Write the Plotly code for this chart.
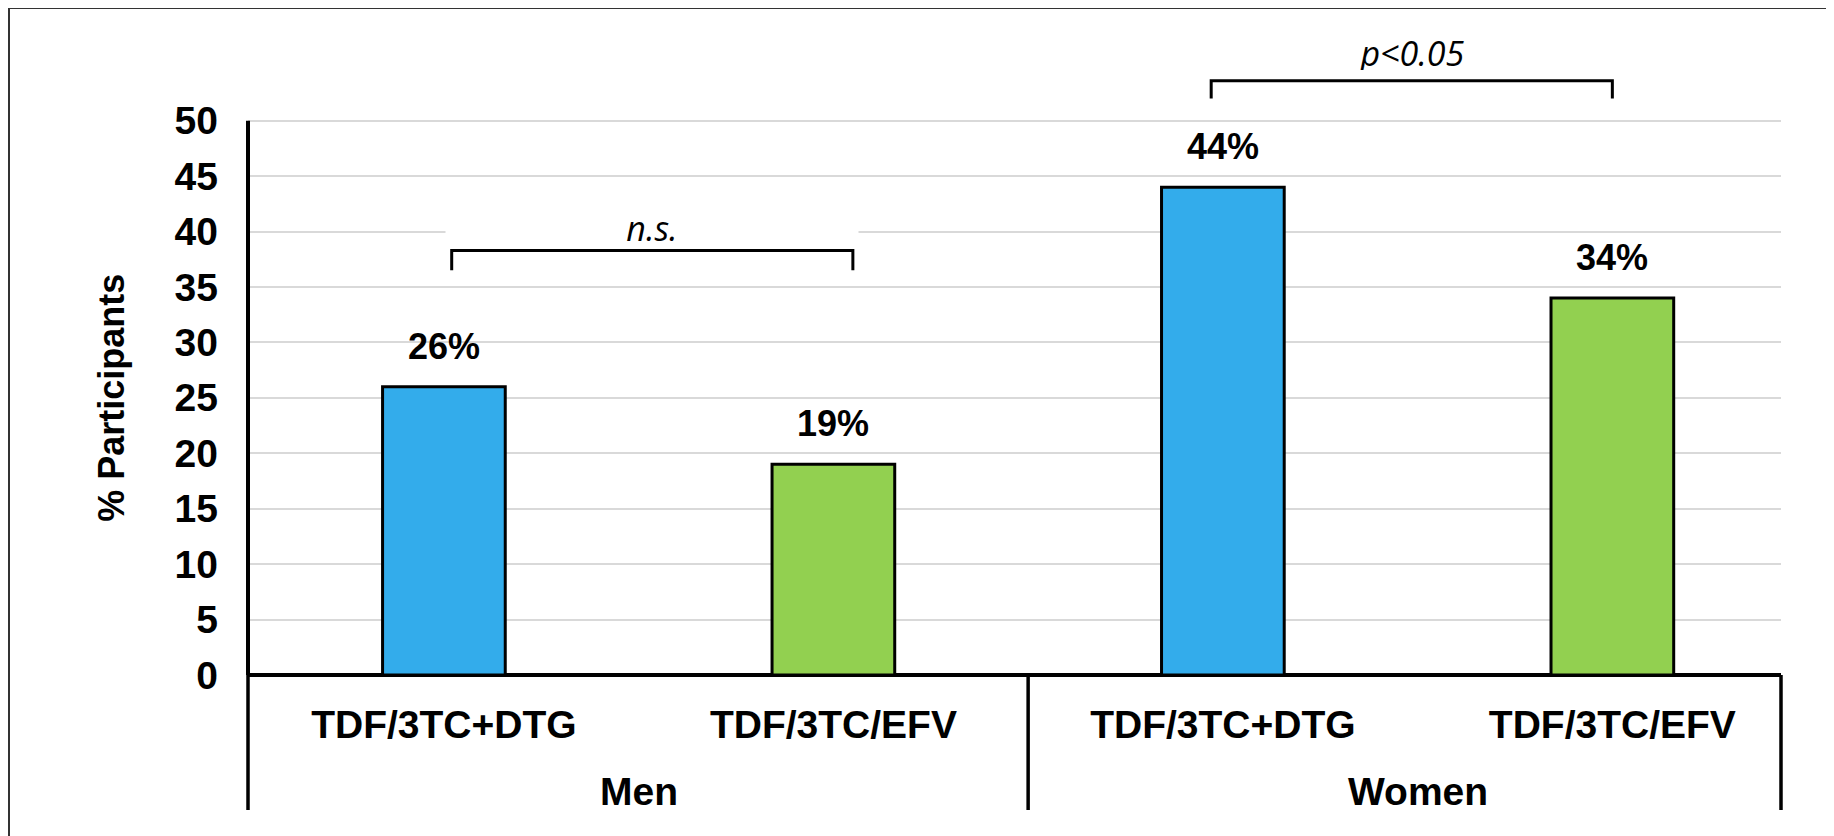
import plotly.graph_objects as go

# ---- data ----
groups = ["Men", "Women"]
regimens = ["TDF/3TC+DTG", "TDF/3TC/EFV", "TDF/3TC+DTG", "TDF/3TC/EFV"]
values = [26, 19, 44, 34]
bar_colors = ["#33ACEB", "#92D050", "#33ACEB", "#92D050"]
y_ticks = [0, 5, 10, 15, 20, 25, 30, 35, 40, 45, 50]
comparison_text = ["n.s.", "p<0.05"]

# ---- layout constants (figure sits at an 8px page offset) ----
W, H = 1826, 828
ML, MR, MT, MB = 240, 53, 24, 161
plot_w = W - ML - MR
plot_h = H - MT - MB
XR = [-0.503, 3.433]
YMAX = 58
FONT = "Liberation Sans, Arial, sans-serif"
ITAL = "Open Sans, sans-serif"

x = list(range(len(values)))

fig = go.Figure()
fig.add_trace(go.Bar(
    x=x, y=values, width=0.315,
    marker=dict(color=bar_colors, line=dict(color="black", width=3)),
    hoverinfo="skip", showlegend=False,
))

def px_to_paper_y(py):
    return (H - MB - py) / plot_h

def px_to_paper_x(px):
    return (px - ML) / plot_w

def dom(xv):
    return (xv - XR[0]) / (XR[1] - XR[0])

shapes = []
annotations = []

# y axis line from 0 to 50
shapes.append(dict(type="line", xref="x domain", yref="y", x0=0, x1=0,
                   y0=0, y1=max(y_ticks), line=dict(color="black", width=4)))
# category dividers below axis
for xd in [0, dom(1.5), 1]:
    shapes.append(dict(type="line", xref="x domain", yref="paper", x0=xd, x1=xd,
                       y0=0, y1=px_to_paper_y(802), line=dict(color="black", width=3.5)))

# bar value labels
for i, v in enumerate(values):
    annotations.append(dict(x=i, y=v, xref="x", yref="y", text=f"<b>{v}%</b>",
                            showarrow=False, yanchor="bottom", yshift=18,
                            font=dict(family=FONT, size=36, color="black")))

# significance brackets
brackets = [
    (0 + 0.02, 1 + 0.05, 36.5, 38.3, 40.3),
    (2 - 0.03, 3 + 0.0, 52.0, 53.6, 56.1),
]
for (x0, x1, yl, yt, ytext), txt in zip(brackets, comparison_text):
    shapes.append(dict(type="path", xref="x", yref="y",
                       path=f"M {x0},{yl} L {x0},{yt} L {x1},{yt} L {x1},{yl}",
                       line=dict(color="black", width=3)))
    annotations.append(dict(x=(x0 + x1) / 2, y=ytext, xref="x", yref="y",
                            text=f"<i>{txt}</i>", showarrow=False,
                            bgcolor="white", width=410, height=34,
                            font=dict(family=ITAL, size=34, color="black")))

# group labels
for gi, g in enumerate(groups):
    annotations.append(dict(x=gi * 2 + 0.5, y=px_to_paper_y(783), xref="x", yref="paper",
                            text=f"<b>{g}</b>", showarrow=False, yanchor="middle",
                            xanchor="center",
                            font=dict(family=FONT, size=39, color="black")))

# y axis title
annotations.append(dict(x=px_to_paper_x(104), y=25, xref="paper", yref="y",
                        text="<b>% Participants</b>", textangle=-90, showarrow=False,
                        xanchor="center", yanchor="middle",
                        font=dict(family=FONT, size=36, color="black")))

# outer frame
shapes.append(dict(type="rect", xref="paper", yref="paper",
                   x0=px_to_paper_x(1), x1=px_to_paper_x(W + 20),
                   y0=px_to_paper_y(H + 20), y1=px_to_paper_y(0),
                   line=dict(color="#333333", width=2), fillcolor="rgba(0,0,0,0)"))

fig.update_layout(
    width=W, height=H,
    margin=dict(l=ML, r=MR, t=MT, b=MB),
    paper_bgcolor="white", plot_bgcolor="white",
    shapes=shapes, annotations=annotations,
    xaxis=dict(range=XR, tickvals=x,
               ticktext=[f"<b>{r}</b>" for r in regimens],
               tickfont=dict(family=FONT, size=39, color="black"),
               showgrid=False, showline=False, zeroline=False, ticks="",
               ticklabelstandoff=23),
    yaxis=dict(range=[0, YMAX], tickvals=y_ticks,
               ticktext=[f"<b>{t}</b>" for t in y_ticks],
               tickfont=dict(family=FONT, size=39, color="black"),
               showgrid=True, gridcolor="#D9D9D9", gridwidth=2,
               zeroline=True, zerolinecolor="black", zerolinewidth=4,
               showline=False, ticks="", ticklabelstandoff=29),
)

fig.write_html("out.html")
